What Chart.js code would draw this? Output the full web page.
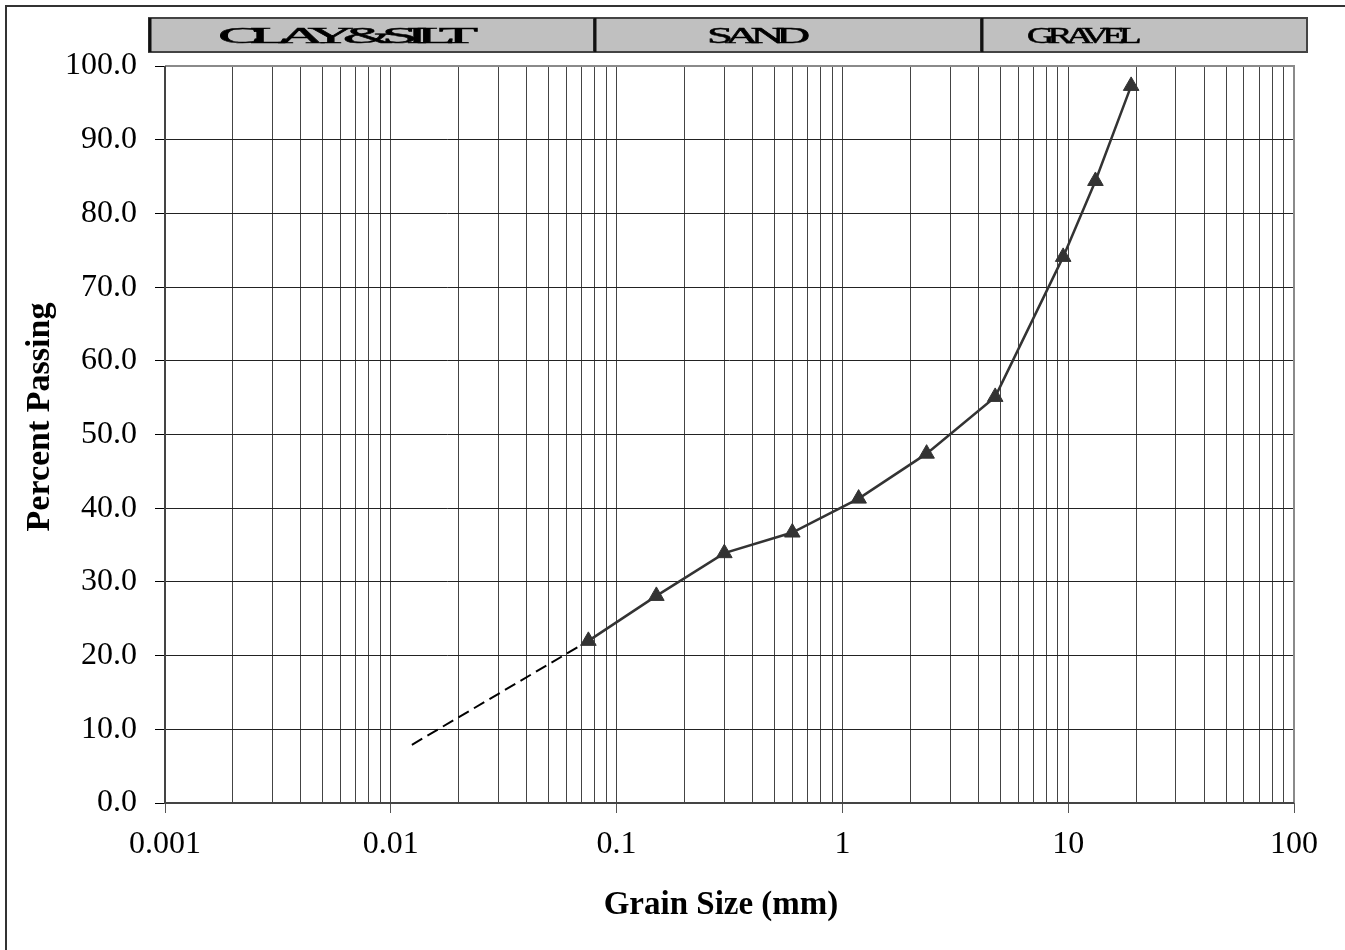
<!DOCTYPE html>
<html lang="en">
<head>
<meta charset="UTF-8">
<title>Grain Size Distribution</title>
<style>
    body {
        margin: 0;
        padding: 0;
        background: #fff;
    }
    canvas {
        display: block;
    }
</style>
</head>
<body>
<canvas id="gradation" width="1345" height="950"></canvas>

<script src="https://cdn.jsdelivr.net/npm/chart.js"></script>
<script>
    // sieve sizes (mm) and percent passing
    const sieveSizes = [0.075, 0.15, 0.3, 0.6, 1.18, 2.36, 4.75, 9.5, 13.2, 19.0];
    const percentPassing = [22.0, 28.1, 33.9, 36.7, 41.3, 47.4, 55.1, 74.1, 84.4, 97.3];

    // dashed extension below the finest sieve
    const extSizes = [0.0124, 0.075];
    const extPassing = [7.9, 22.0];

    // log axis: decades and the 1..9 grid steps inside each
    const decades = [0.001, 0.01, 0.1, 1, 10, 100];
    const decadeLabels = ['0.001', '0.01', '0.1', '1', '10', '100'];
    const gridSteps = [1, 2, 3, 4, 5, 6, 7, 8, 9];

    const soilBands = ['CLAY&SILT', 'SAND', 'GRAVEL'];

    const gridValues = [];
    decades.slice(0, -1).forEach(d => gridSteps.forEach(s => gridValues.push(+(d * s).toPrecision(3))));
    gridValues.push(100);

    const decadeIndex = v => decades.findIndex(d => Math.abs(v / d - 1) < 1e-6);

    const serif = "'Liberation Serif', 'Times New Roman', serif";

    // header bands + titles + frame
    const decorPlugin = {
        id: 'decor',
        beforeDraw(chart) {
            const ctx = chart.ctx;
            ctx.save();
            ctx.fillStyle = '#fff';
            ctx.fillRect(0, 0, chart.width, chart.height);
            ctx.restore();
        },
        afterDraw(chart) {
            const ctx = chart.ctx;
            const a = chart.chartArea;
            ctx.save();

            // plot frame
            ctx.lineWidth = 2;
            ctx.strokeStyle = '#8a8a8a';
            ctx.beginPath();
            ctx.moveTo(a.left, a.top);
            ctx.lineTo(a.right, a.top);
            ctx.lineTo(a.right, a.bottom);
            ctx.stroke();
            ctx.strokeStyle = '#444';
            ctx.beginPath();
            ctx.moveTo(a.left, a.top);
            ctx.lineTo(a.left, a.bottom);
            ctx.lineTo(a.right, a.bottom);
            ctx.stroke();

            // soil class bands
            const boxes = [[149, 594], [594, 981], [981, 1307]];
            const textSpans = [[218, 467], [707, 802], [1027, 1135]];
            const top = 18, bottom = 52;
            boxes.forEach((b, i) => {
                ctx.fillStyle = '#c0c0c0';
                ctx.fillRect(b[0], top, b[1] - b[0], bottom - top);
                ctx.strokeStyle = '#444';
                ctx.lineWidth = 2;
                ctx.strokeRect(b[0], top, b[1] - b[0], bottom - top);
                ctx.strokeStyle = '#111';
                ctx.lineWidth = 3;
                ctx.beginPath();
                ctx.moveTo(b[0] + 1, top);
                ctx.lineTo(b[0] + 1, bottom);
                ctx.stroke();

                const span = textSpans[i];
                ctx.font = "23px 'Liberation Serif', serif";
                ctx.letterSpacing = '-4px';
                const w = ctx.measureText(soilBands[i]).width;
                const sx = (span[1] - span[0]) / w;
                ctx.save();
                ctx.translate(span[0], 43);
                ctx.scale(sx, 1);
                ctx.fillStyle = '#000';
                ctx.strokeStyle = '#000';
                ctx.lineWidth = 0.5;
                ctx.textAlign = 'left';
                ctx.textBaseline = 'alphabetic';
                ctx.fillText(soilBands[i], 0, 0);
                ctx.strokeText(soilBands[i], 0, 0);
                ctx.restore();
                ctx.letterSpacing = '0px';
            });

            // axis titles
            ctx.fillStyle = '#000';
            ctx.font = "bold 33px " + serif;
            ctx.textAlign = 'center';
            ctx.textBaseline = 'middle';
            ctx.fillText('Grain Size (mm)', 721, 905);
            ctx.save();
            ctx.translate(40, 417);
            ctx.rotate(-Math.PI / 2);
            ctx.font = "bold 34px " + serif;
            ctx.fillText('Percent Passing', 0, 0);
            ctx.restore();

            // outer frame
            ctx.strokeStyle = '#333';
            ctx.lineWidth = 2;
            ctx.beginPath();
            ctx.moveTo(6, chart.height);
            ctx.lineTo(6, 6);
            ctx.lineTo(chart.width, 6);
            ctx.stroke();
            ctx.restore();
        }
    };

    const ctx = document.getElementById('gradation').getContext('2d');

    new Chart(ctx, {
        type: 'line',
        data: {
            datasets: [
                {
                    label: 'Extension',
                    data: extSizes.map((x, i) => ({x: x, y: extPassing[i]})),
                    borderColor: '#000',
                    borderWidth: 2,
                    borderDash: [12, 6],
                    pointRadius: 0,
                    fill: false,
                    order: 2
                },
                {
                    label: 'Percent Passing',
                    data: sieveSizes.map((x, i) => ({x: x, y: percentPassing[i]})),
                    borderColor: '#333',
                    borderWidth: 2.5,
                    pointStyle: 'triangle',
                    pointRadius: 9,
                    pointBackgroundColor: '#333',
                    pointBorderColor: '#333',
                    pointBorderWidth: 1,
                    fill: false,
                    tension: 0,
                    order: 1
                }
            ]
        },
        options: {
            responsive: false,
            animation: false,
            layout: {
                padding: {left: 0, right: 51, top: 66, bottom: 0}
            },
            plugins: {
                legend: {display: false},
                tooltip: {enabled: false}
            },
            scales: {
                x: {
                    type: 'logarithmic',
                    min: 0.001,
                    max: 100,
                    afterBuildTicks: scale => {
                        scale.ticks = gridValues.map(v => ({value: v, major: decadeIndex(v) >= 0}));
                    },
                    afterFit: scale => { scale.height = 147; },
                    border: {display: false},
                    grid: {
                        color: '#444',
                        lineWidth: 1,
                        tickLength: 10,
                        tickColor: c => decadeIndex(c.tick.value) >= 0 ? '#555' : 'rgba(0,0,0,0)'
                    },
                    ticks: {
                        autoSkip: false,
                        maxRotation: 0,
                        padding: 12,
                        color: '#000',
                        font: {family: serif, size: 32},
                        callback: v => {
                            const i = decadeIndex(v);
                            return i >= 0 ? decadeLabels[i] : '';
                        }
                    }
                },
                y: {
                    min: 0,
                    max: 100,
                    afterFit: scale => { scale.width = 165; },
                    border: {display: false},
                    grid: {
                        color: '#222',
                        lineWidth: 1,
                        tickLength: 10,
                        tickColor: '#000'
                    },
                    ticks: {
                        stepSize: 10,
                        padding: 18,
                        color: '#000',
                        font: {family: serif, size: 32},
                        callback: v => v.toFixed(1)
                    }
                }
            }
        },
        plugins: [decorPlugin]
    });
</script>
</body>
</html>
